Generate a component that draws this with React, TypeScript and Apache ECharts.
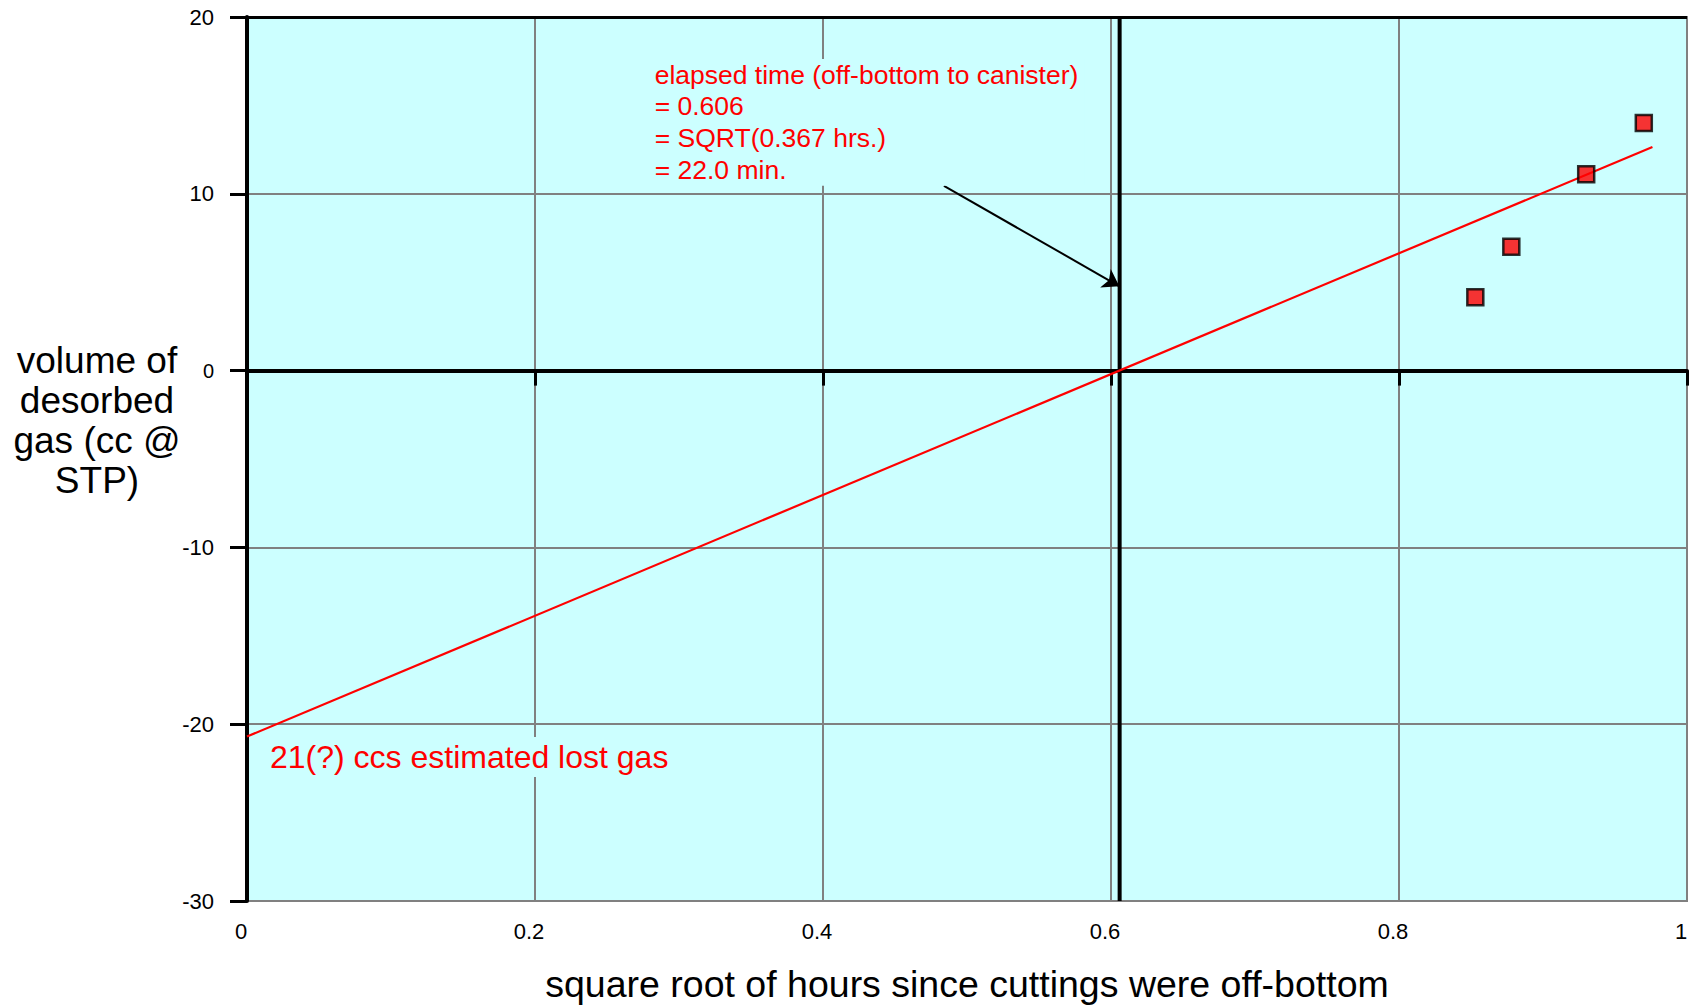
import React, { useEffect, useRef } from 'react';
import * as echarts from 'echarts';

// ---- data ----
const xTickValues = [0, 0.2, 0.4, 0.6, 0.8, 1];
const yTickValues = [-30, -20, -10, 0, 10, 20];
const measuredRootHours = [0.853, 0.878, 0.93, 0.97];
const measuredVolume = [4.15, 7.0, 11.1, 14.0];
const fitRootHours = [0, 0.976];
const fitVolume = [-20.7, 12.65];
const elapsedRoot = 0.606;
const arrowFrom = [0.484, 10.45];
const arrowTo = [0.6058, 4.77];
const noteElapsedAt = [0.2831, 17.63];
const noteLostAt = [0.0132, -20.73];
const noteElapsedLines = [
  'elapsed time (off-bottom to canister)',
  '= 0.606',
  '= SQRT(0.367 hrs.)',
  '= 22.0 min.',
];
const noteLost = '21(?) ccs estimated lost gas';
const xTitle = 'square root of hours since cuttings were off-bottom';
const yTitleLines = ['volume of', 'desorbed', 'gas (cc @', 'STP)'];

const FONT = "'Liberation Sans', Arial, Helvetica, sans-serif";
const BG = '#ccffff';
const GRIDC = '#808080';

export default function App() {
  const ref = useRef<HTMLDivElement>(null);
  useEffect(() => {
    if (!ref.current) return;
    const chart = echarts.init(ref.current, undefined, { renderer: 'svg' });
    const xMin = xTickValues[0];
    const xMax = xTickValues[xTickValues.length - 1];
    const yMin = yTickValues[0];
    const yMax = yTickValues[yTickValues.length - 1];
    const option: any = {
      animation: false,
      textStyle: { fontFamily: FONT },
      grid: {
        left: 247,
        top: 17,
        width: 1440,
        height: 885,
        show: true,
        backgroundColor: BG,
        borderColor: GRIDC,
        borderWidth: 2,
        containLabel: false,
      },
      xAxis: [
        {
          type: 'value',
          min: xMin,
          max: xMax,
          interval: 0.2,
          position: 'bottom',
          axisLine: { show: false, onZero: false },
          axisTick: { show: false },
          axisLabel: {
            fontSize: 22,
            color: '#000',
            margin: 19,
            padding: [0, 12, 0, 0],
            fontFamily: FONT,
          },
          splitLine: { show: true, lineStyle: { color: GRIDC, width: 2 } },
          name: xTitle,
          nameLocation: 'middle',
          nameGap: 83,
          nameTextStyle: { fontSize: 37.5, color: '#000', verticalAlign: 'middle', fontFamily: FONT },
        },
        {
          type: 'value',
          min: xMin,
          max: xMax,
          interval: 0.2,
          position: 'bottom',
          axisLine: {
            show: true,
            onZero: true,
            onZeroAxisIndex: 0,
            lineStyle: { color: '#000', width: 4 },
          },
          axisTick: { show: true, length: 15, lineStyle: { color: '#000', width: 3 } },
          axisLabel: { show: false },
          splitLine: { show: false },
        },
      ],
      yAxis: {
        type: 'value',
        min: yMin,
        max: yMax,
        interval: 10,
        position: 'left',
        axisLine: { show: true, onZero: false, lineStyle: { color: '#000', width: 4 } },
        axisTick: { show: true, length: 17, lineStyle: { color: '#000', width: 3 } },
        axisLabel: {
          fontSize: 22,
          color: '#000',
          margin: 33,
          fontFamily: FONT,
          formatter: (v: number) => (v === 0 ? '{z|0}' : String(v)),
          rich: { z: { fontSize: 20, color: '#000', fontFamily: FONT } },
        },
        splitLine: { show: true, lineStyle: { color: GRIDC, width: 2 } },
      },
      graphic: [
        {
          type: 'text',
          x: 97,
          y: 420,
          style: {
            text: yTitleLines.join('\n'),
            align: 'center',
            verticalAlign: 'middle',
            fontSize: 37,
            lineHeight: 40,
            fontFamily: FONT,
            fill: '#000',
          },
        },
      ],
      series: [
        {
          name: 'elapsed',
          type: 'line',
          xAxisIndex: 0,
          data: [
            [elapsedRoot, yMin],
            [elapsedRoot, yMax],
          ],
          symbol: 'none',
          silent: true,
          z: 1,
          lineStyle: { color: '#000', width: 4 },
          markLine: {
            silent: true,
            symbol: 'none',
            label: { show: false },
            lineStyle: { color: '#000', width: 3, type: 'solid' },
            data: [{ yAxis: yMax }],
          },
        },
        {
          name: 'fit',
          type: 'line',
          xAxisIndex: 0,
          data: fitRootHours.map((x, i) => [x, fitVolume[i]]),
          symbol: 'none',
          silent: true,
          z: 3,
          lineStyle: { color: '#ff0000', width: 2.2 },
        },
        {
          name: 'measured',
          type: 'scatter',
          xAxisIndex: 0,
          data: measuredRootHours.map((x, i) => [x, measuredVolume[i]]),
          symbol: 'rect',
          symbolSize: 16,
          z: 4,
          itemStyle: { color: '#ff0000', borderColor: '#000', borderWidth: 2.5 },
          markLine: {
            silent: true,
            symbol: ['none', 'arrow'],
            symbolSize: 16,
            label: { show: false },
            lineStyle: { color: '#000', width: 2, type: 'solid' },
            data: [[{ coord: arrowFrom }, { coord: arrowTo }]],
          },
          markPoint: {
            silent: true,
            symbol: 'rect',
            symbolSize: 1,
            itemStyle: { color: 'rgba(0,0,0,0)' },
            data: [
              {
                coord: noteElapsedAt,
                label: {
                  show: true,
                  position: 'inside',
                  align: 'left',
                  verticalAlign: 'top',
                  formatter: noteElapsedLines.join('\n'),
                  color: '#ff0000',
                  fontSize: 26.5,
                  lineHeight: 31.7,
                  fontFamily: FONT,
                  backgroundColor: BG,
                  padding: [0, 6, 0, 0],
                  textBorderWidth: 0,
                },
              },
              {
                coord: noteLostAt,
                label: {
                  show: true,
                  position: 'inside',
                  align: 'left',
                  verticalAlign: 'top',
                  formatter: noteLost,
                  color: '#ff0000',
                  fontSize: 32,
                  lineHeight: 40,
                  fontFamily: FONT,
                  backgroundColor: BG,
                  padding: [0, 6, 0, 4],
                  textBorderWidth: 0,
                },
              },
            ],
          },
        },
      ],
    };
    chart.setOption(option);
    return () => chart.dispose();
  }, []);
  return (
    <div
      ref={ref}
      style={{ position: 'absolute', left: 0, top: 0, width: 1694, height: 1008, background: '#fff' }}
    />
  );
}
